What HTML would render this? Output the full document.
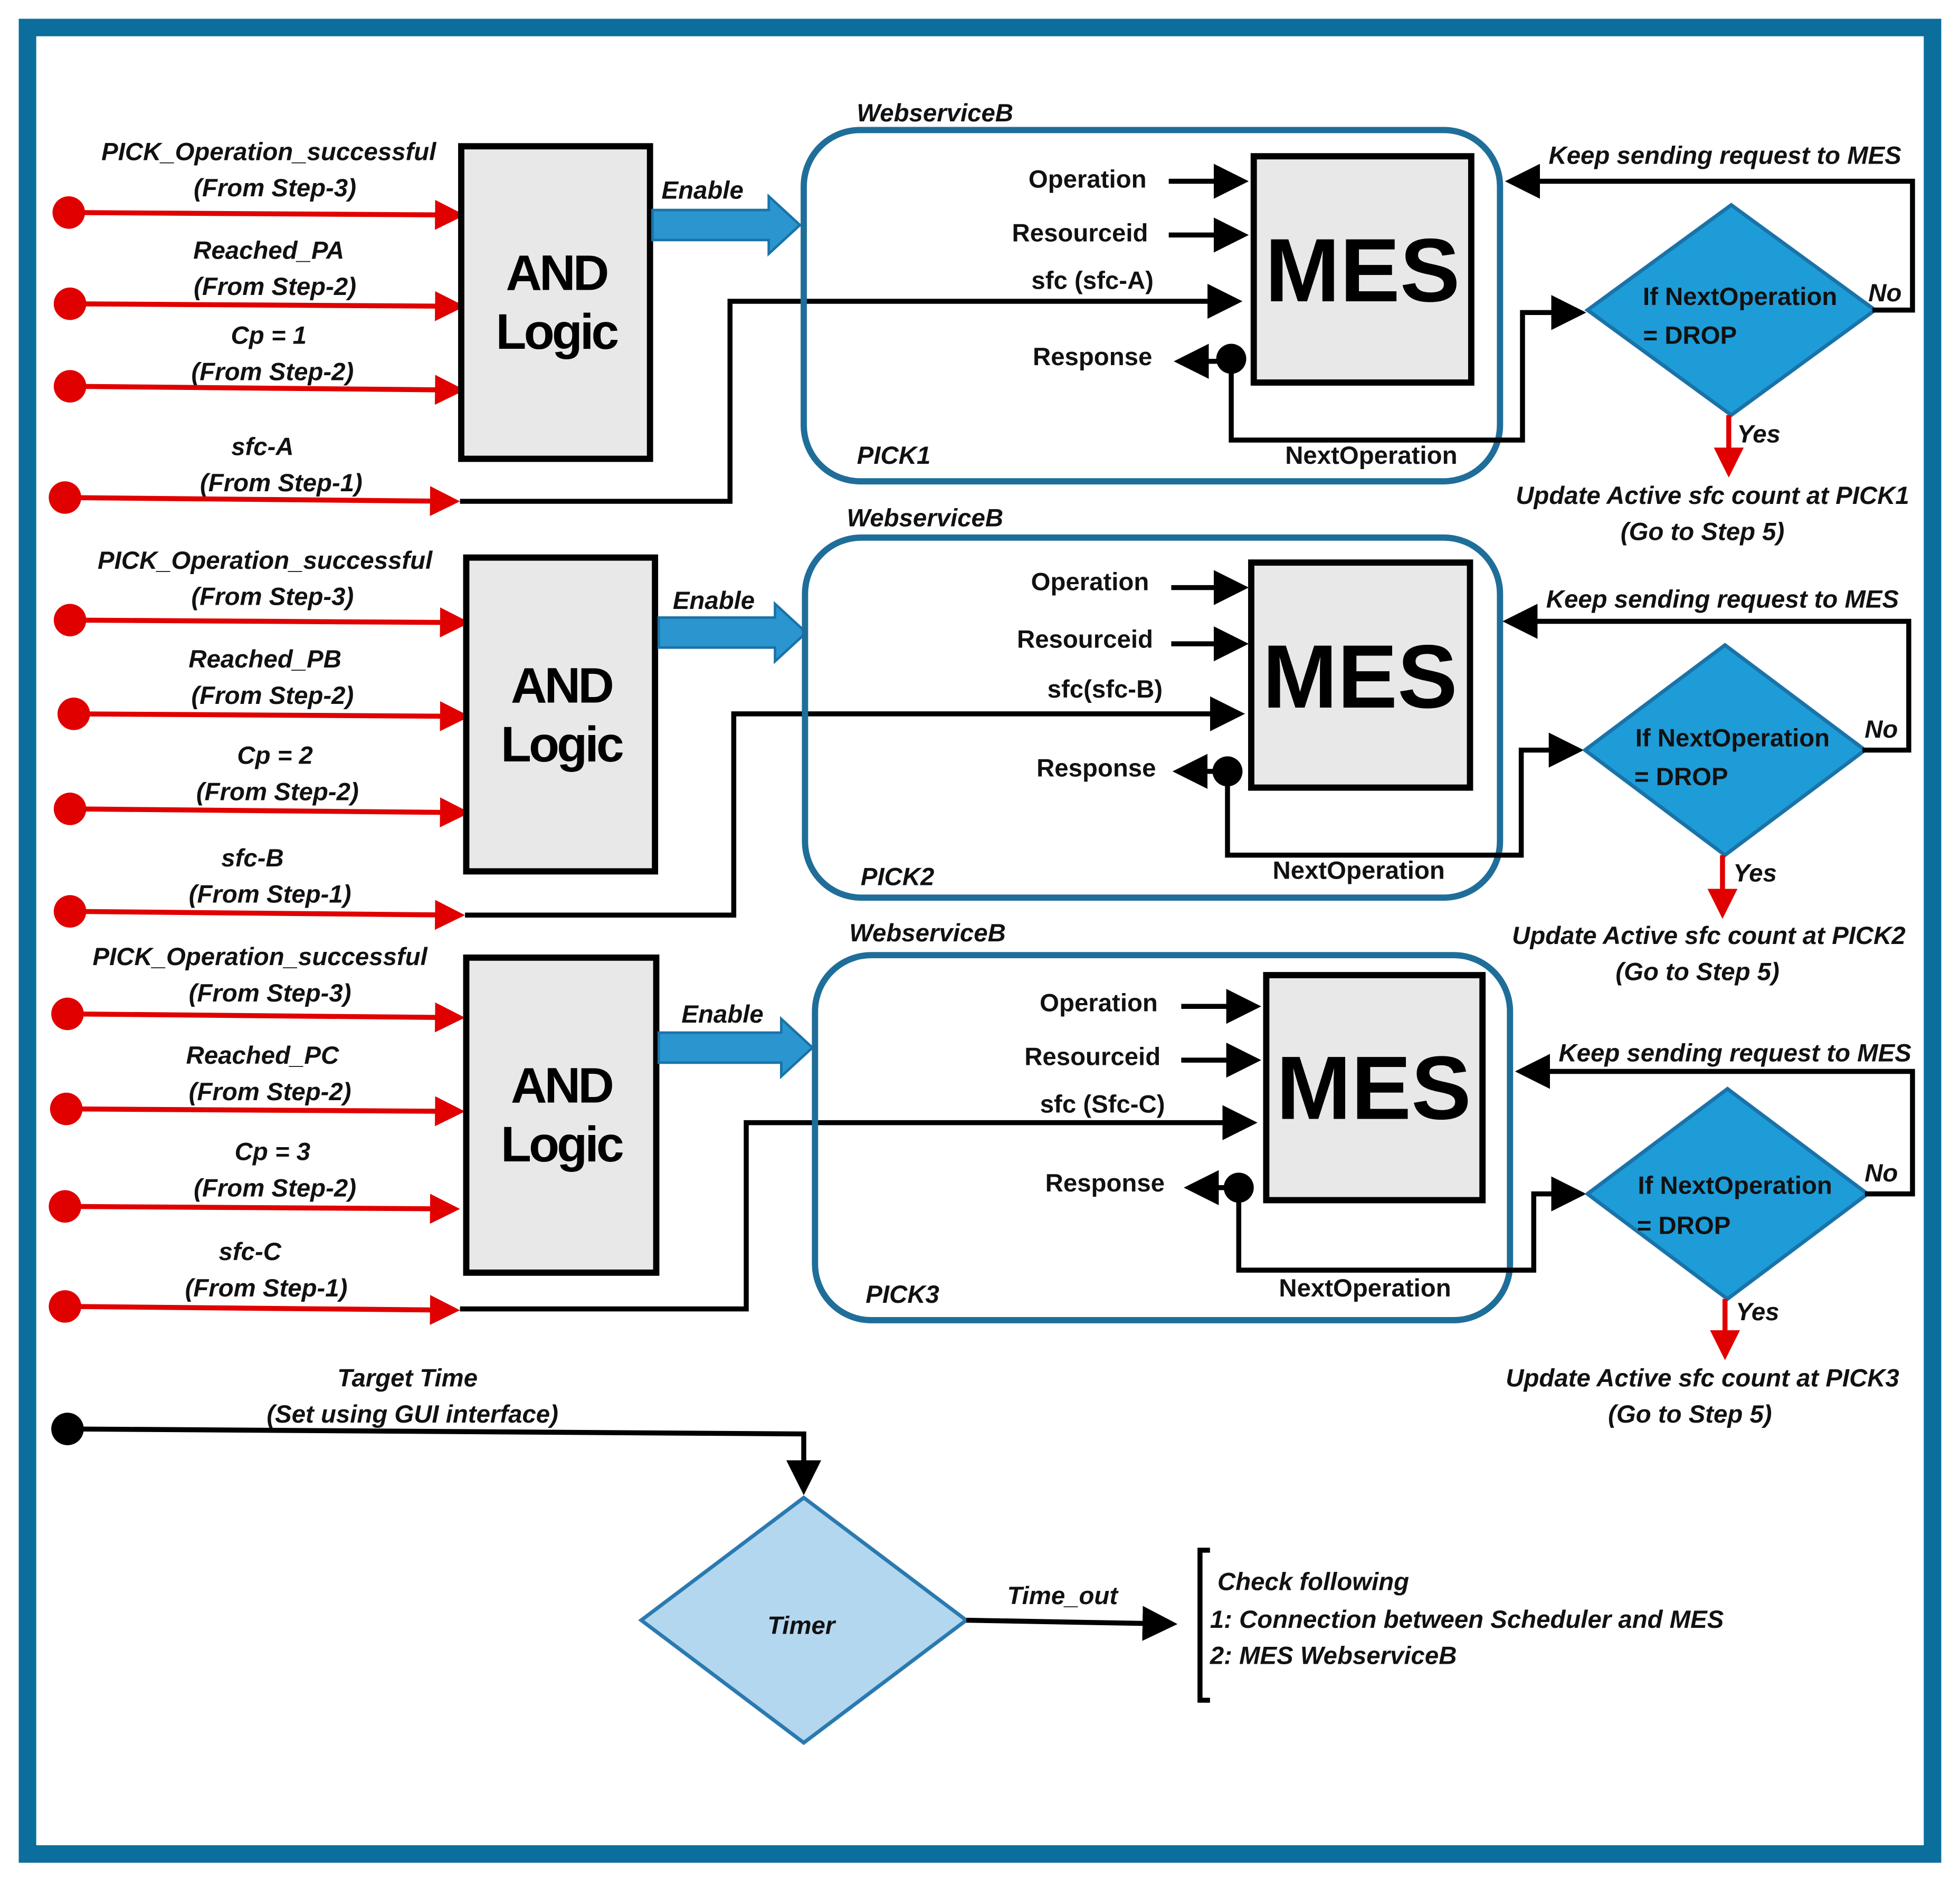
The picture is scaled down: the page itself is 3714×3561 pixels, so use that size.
<!DOCTYPE html>
<html><head><meta charset="utf-8"><style>
html,body{margin:0;padding:0;background:#fff}
svg{display:block}
text{font-family:"Liberation Sans",sans-serif}
.l{font-size:20px;font-style:italic;font-weight:bold;fill:#111}
.r{font-size:20px;font-weight:bold;fill:#111}
.and{font-size:40px;font-weight:bold;fill:#000;letter-spacing:-2px}
.mes{font-size:72px;font-weight:bold;fill:#000}
.k{stroke:#000;stroke-width:4;fill:none}
.red{stroke:#e00000;stroke-width:4}
</style></head><body>
<svg width="3714" height="3561" viewBox="0 0 1568 1503" preserveAspectRatio="none" xmlns="http://www.w3.org/2000/svg">
<defs>
<marker id="ar" markerWidth="6" markerHeight="6" refX="5" refY="3" orient="auto" markerUnits="strokeWidth"><path d="M0,0 L6,3 L0,6z" fill="#e00000"/></marker>
<marker id="ak" markerWidth="7" markerHeight="7" refX="6" refY="3.5" orient="auto" markerUnits="strokeWidth"><path d="M0,0 L7,3.5 L0,7z" fill="#000"/></marker>
</defs>
<rect x="22" y="22" width="1524" height="1461" fill="#fff" stroke="#0b6e9d" stroke-width="14"/>

<!-- BLOCK 1 -->
<g>
<text class="l" x="215" y="128" text-anchor="middle">PICK_Operation_successful</text>
<text class="l" x="220" y="157" text-anchor="middle">(From Step-3)</text>
<text class="l" x="215" y="207" text-anchor="middle">Reached_PA</text>
<text class="l" x="220" y="236" text-anchor="middle">(From Step-2)</text>
<text class="l" x="215" y="275" text-anchor="middle">Cp = 1</text>
<text class="l" x="218" y="304" text-anchor="middle">(From Step-2)</text>
<text class="l" x="210" y="364" text-anchor="middle">sfc-A</text>
<text class="l" x="225" y="393" text-anchor="middle">(From Step-1)</text>
<circle cx="55" cy="170" r="13" fill="#e00000"/><line class="red" x1="55" y1="170" x2="368" y2="172" marker-end="url(#ar)"/>
<circle cx="56" cy="243" r="13" fill="#e00000"/><line class="red" x1="56" y1="243" x2="368" y2="245" marker-end="url(#ar)"/>
<circle cx="56" cy="309" r="13" fill="#e00000"/><line class="red" x1="56" y1="309" x2="368" y2="312" marker-end="url(#ar)"/>
<circle cx="52" cy="398" r="13" fill="#e00000"/><line class="red" x1="52" y1="398" x2="364" y2="401" marker-end="url(#ar)"/>
<polyline class="k" points="368,401 584,401 584,241 990,241" marker-end="url(#ak)"/>
<rect x="369" y="117" width="151" height="250" fill="#e8e8e8" stroke="#000" stroke-width="5"/>
<text class="and" x="445" y="232" text-anchor="middle">AND</text>
<text class="and" x="445" y="279" text-anchor="middle">Logic</text>
<text class="l" x="562" y="159" text-anchor="middle">Enable</text>
<path d="M522,168 H615 V157 L640,180 L615,203 V192 H522z" fill="#2b95d0" stroke="#1a73a8" stroke-width="2"/>
<rect x="643" y="104" width="557" height="281" rx="45" fill="none" stroke="#1f6e9a" stroke-width="5"/>
<text class="l" x="748" y="97" text-anchor="middle">WebserviceB</text>
<text class="l" x="715" y="371" text-anchor="middle">PICK1</text>
<text class="r" x="1097" y="371" text-anchor="middle">NextOperation</text>
<text class="r" x="870" y="150" text-anchor="middle">Operation</text>
<text class="r" x="864" y="193" text-anchor="middle">Resourceid</text>
<text class="r" x="874" y="231" text-anchor="middle">sfc (sfc-A)</text>
<text class="r" x="874" y="292" text-anchor="middle">Response</text>
<line class="k" x1="935" y1="145" x2="995" y2="145" marker-end="url(#ak)"/>
<line class="k" x1="935" y1="188" x2="995" y2="188" marker-end="url(#ak)"/>
<line class="k" x1="985" y1="289" x2="943" y2="289" marker-end="url(#ak)"/>
<polyline class="k" points="985,289 985,352 1218,352 1218,250 1265,250" marker-end="url(#ak)"/>
<circle cx="985" cy="287" r="12" fill="#000"/>
<rect x="1003" y="125" width="174" height="181" fill="#e8e8e8" stroke="#000" stroke-width="5"/>
<text class="mes" x="1090" y="241" text-anchor="middle">MES</text>
<polygon points="1270,248 1385,164 1500,248 1385,332" fill="#1e9cd8" stroke="#1a73a8" stroke-width="3"/>
<text class="r" x="1392" y="244" text-anchor="middle">If NextOperation</text>
<text class="r" x="1352" y="275" text-anchor="middle">=  DROP</text>
<text class="l" x="1508" y="241" text-anchor="middle">No</text>
<polyline class="k" points="1498,248 1530,248 1530,145 1208,145" marker-end="url(#ak)"/>
<text class="l" x="1380" y="131" text-anchor="middle">Keep sending request to MES</text>
<line class="red" x1="1383" y1="332" x2="1383" y2="378" marker-end="url(#ar)"/>
<text class="l" x="1407" y="354" text-anchor="middle">Yes</text>
<text class="l" x="1370" y="403" text-anchor="middle">Update Active sfc count at PICK1</text>
<text class="l" x="1362" y="432" text-anchor="middle">(Go to Step 5)</text>
</g>

<!-- BLOCK 2 -->
<g>
<text class="l" x="212" y="455" text-anchor="middle">PICK_Operation_successful</text>
<text class="l" x="218" y="484" text-anchor="middle">(From Step-3)</text>
<text class="l" x="212" y="534" text-anchor="middle">Reached_PB</text>
<text class="l" x="218" y="563" text-anchor="middle">(From Step-2)</text>
<text class="l" x="220" y="611" text-anchor="middle">Cp = 2</text>
<text class="l" x="222" y="640" text-anchor="middle">(From Step-2)</text>
<text class="l" x="202" y="693" text-anchor="middle">sfc-B</text>
<text class="l" x="216" y="722" text-anchor="middle">(From Step-1)</text>
<circle cx="56" cy="496" r="13" fill="#e00000"/><line class="red" x1="56" y1="496" x2="372" y2="498" marker-end="url(#ar)"/>
<circle cx="59" cy="571" r="13" fill="#e00000"/><line class="red" x1="59" y1="571" x2="372" y2="573" marker-end="url(#ar)"/>
<circle cx="56" cy="647" r="13" fill="#e00000"/><line class="red" x1="56" y1="647" x2="372" y2="650" marker-end="url(#ar)"/>
<circle cx="56" cy="729" r="13" fill="#e00000"/><line class="red" x1="56" y1="729" x2="368" y2="732" marker-end="url(#ar)"/>
<polyline class="k" points="372,732 587,732 587,571 992,571" marker-end="url(#ak)"/>
<rect x="373" y="446" width="151" height="251" fill="#e8e8e8" stroke="#000" stroke-width="5"/>
<text class="and" x="449" y="562" text-anchor="middle">AND</text>
<text class="and" x="449" y="609" text-anchor="middle">Logic</text>
<text class="l" x="571" y="487" text-anchor="middle">Enable</text>
<path d="M527,494 H620 V483 L645,506 L620,529 V518 H527z" fill="#2b95d0" stroke="#1a73a8" stroke-width="2"/>
<rect x="644" y="430" width="556" height="288" rx="45" fill="none" stroke="#1f6e9a" stroke-width="5"/>
<text class="l" x="740" y="421" text-anchor="middle">WebserviceB</text>
<text class="l" x="718" y="708" text-anchor="middle">PICK2</text>
<text class="r" x="1087" y="703" text-anchor="middle">NextOperation</text>
<text class="r" x="872" y="472" text-anchor="middle">Operation</text>
<text class="r" x="868" y="518" text-anchor="middle">Resourceid</text>
<text class="r" x="884" y="558" text-anchor="middle">sfc(sfc-B)</text>
<text class="r" x="877" y="621" text-anchor="middle">Response</text>
<line class="k" x1="937" y1="470" x2="995" y2="470" marker-end="url(#ak)"/>
<line class="k" x1="937" y1="515" x2="995" y2="515" marker-end="url(#ak)"/>
<line class="k" x1="982" y1="617" x2="942" y2="617" marker-end="url(#ak)"/>
<polyline class="k" points="982,617 982,684 1217,684 1217,600 1263,600" marker-end="url(#ak)"/>
<circle cx="982" cy="617" r="12" fill="#000"/>
<rect x="1001" y="450" width="175" height="180" fill="#e8e8e8" stroke="#000" stroke-width="5"/>
<text class="mes" x="1088" y="566" text-anchor="middle">MES</text>
<polygon points="1268,600 1380,516 1492,600 1380,684" fill="#1e9cd8" stroke="#1a73a8" stroke-width="3"/>
<text class="r" x="1386" y="597" text-anchor="middle">If NextOperation</text>
<text class="r" x="1345" y="628" text-anchor="middle">=  DROP</text>
<text class="l" x="1505" y="590" text-anchor="middle">No</text>
<polyline class="k" points="1490,600 1527,600 1527,497 1206,497" marker-end="url(#ak)"/>
<text class="l" x="1378" y="486" text-anchor="middle">Keep sending request to MES</text>
<line class="red" x1="1378" y1="684" x2="1378" y2="731" marker-end="url(#ar)"/>
<text class="l" x="1404" y="705" text-anchor="middle">Yes</text>
<text class="l" x="1367" y="755" text-anchor="middle">Update Active sfc count at PICK2</text>
<text class="l" x="1358" y="784" text-anchor="middle">(Go to Step 5)</text>
</g>

<!-- BLOCK 3 -->
<g>
<text class="l" x="208" y="772" text-anchor="middle">PICK_Operation_successful</text>
<text class="l" x="216" y="801" text-anchor="middle">(From Step-3)</text>
<text class="l" x="210" y="851" text-anchor="middle">Reached_PC</text>
<text class="l" x="216" y="880" text-anchor="middle">(From Step-2)</text>
<text class="l" x="218" y="928" text-anchor="middle">Cp = 3</text>
<text class="l" x="220" y="957" text-anchor="middle">(From Step-2)</text>
<text class="l" x="200" y="1008" text-anchor="middle">sfc-C</text>
<text class="l" x="213" y="1037" text-anchor="middle">(From Step-1)</text>
<circle cx="54" cy="811" r="13" fill="#e00000"/><line class="red" x1="54" y1="811" x2="368" y2="814" marker-end="url(#ar)"/>
<circle cx="53" cy="887" r="13" fill="#e00000"/><line class="red" x1="53" y1="887" x2="368" y2="889" marker-end="url(#ar)"/>
<circle cx="52" cy="965" r="13" fill="#e00000"/><line class="red" x1="52" y1="965" x2="364" y2="967" marker-end="url(#ar)"/>
<circle cx="52" cy="1045" r="13" fill="#e00000"/><line class="red" x1="52" y1="1045" x2="364" y2="1048" marker-end="url(#ar)"/>
<polyline class="k" points="368,1047 597,1047 597,898 1002,898" marker-end="url(#ak)"/>
<rect x="373" y="766" width="152" height="252" fill="#e8e8e8" stroke="#000" stroke-width="5"/>
<text class="and" x="449" y="882" text-anchor="middle">AND</text>
<text class="and" x="449" y="929" text-anchor="middle">Logic</text>
<text class="l" x="578" y="818" text-anchor="middle">Enable</text>
<path d="M527,826 H625 V815 L650,838 L625,861 V850 H527z" fill="#2b95d0" stroke="#1a73a8" stroke-width="2"/>
<rect x="652" y="764" width="556" height="292" rx="45" fill="none" stroke="#1f6e9a" stroke-width="5"/>
<text class="l" x="742" y="753" text-anchor="middle">WebserviceB</text>
<text class="l" x="722" y="1042" text-anchor="middle">PICK3</text>
<text class="r" x="1092" y="1037" text-anchor="middle">NextOperation</text>
<text class="r" x="879" y="809" text-anchor="middle">Operation</text>
<text class="r" x="874" y="852" text-anchor="middle">Resourceid</text>
<text class="r" x="882" y="890" text-anchor="middle">sfc (Sfc-C)</text>
<text class="r" x="884" y="953" text-anchor="middle">Response</text>
<line class="k" x1="945" y1="805" x2="1005" y2="805" marker-end="url(#ak)"/>
<line class="k" x1="945" y1="848" x2="1005" y2="848" marker-end="url(#ak)"/>
<line class="k" x1="991" y1="950" x2="951" y2="950" marker-end="url(#ak)"/>
<polyline class="k" points="991,950 991,1016 1227,1016 1227,955 1265,955" marker-end="url(#ak)"/>
<circle cx="991" cy="950" r="12" fill="#000"/>
<rect x="1013" y="780" width="173" height="180" fill="#e8e8e8" stroke="#000" stroke-width="5"/>
<text class="mes" x="1099" y="895" text-anchor="middle">MES</text>
<polygon points="1270,955 1382,871 1494,955 1382,1039" fill="#1e9cd8" stroke="#1a73a8" stroke-width="3"/>
<text class="r" x="1388" y="955" text-anchor="middle">If NextOperation</text>
<text class="r" x="1347" y="987" text-anchor="middle">=  DROP</text>
<text class="l" x="1505" y="945" text-anchor="middle">No</text>
<polyline class="k" points="1492,955 1530,955 1530,857 1216,857" marker-end="url(#ak)"/>
<text class="l" x="1388" y="849" text-anchor="middle">Keep sending request to MES</text>
<line class="red" x1="1380" y1="1039" x2="1380" y2="1084" marker-end="url(#ar)"/>
<text class="l" x="1406" y="1056" text-anchor="middle">Yes</text>
<text class="l" x="1362" y="1109" text-anchor="middle">Update Active sfc count at PICK3</text>
<text class="l" x="1352" y="1138" text-anchor="middle">(Go to Step 5)</text>
</g>

<!-- BOTTOM -->
<text class="l" x="326" y="1109" text-anchor="middle">Target Time</text>
<text class="l" x="330" y="1138" text-anchor="middle">(Set using GUI interface)</text>
<circle cx="54" cy="1143" r="13" fill="#000"/>
<polyline class="k" points="54,1143 643,1147 643,1192" marker-end="url(#ak)"/>
<polygon points="513,1296 643,1198 773,1296 643,1394" fill="#b3d7ef" stroke="#2a7ab0" stroke-width="3"/>
<text class="l" x="641" y="1307" text-anchor="middle">Timer</text>
<line class="k" x1="773" y1="1296" x2="938" y2="1299" marker-end="url(#ak)"/>
<text class="l" x="850" y="1283" text-anchor="middle">Time_out</text>
<polyline points="968,1240 960,1240 960,1360 968,1360" fill="none" stroke="#000" stroke-width="4"/>
<text class="l" x="974" y="1272">Check following</text>
<text class="l" x="968" y="1302">1: Connection between Scheduler and MES</text>
<text class="l" x="968" y="1331">2:  MES WebserviceB</text>
</svg>
</body></html>
